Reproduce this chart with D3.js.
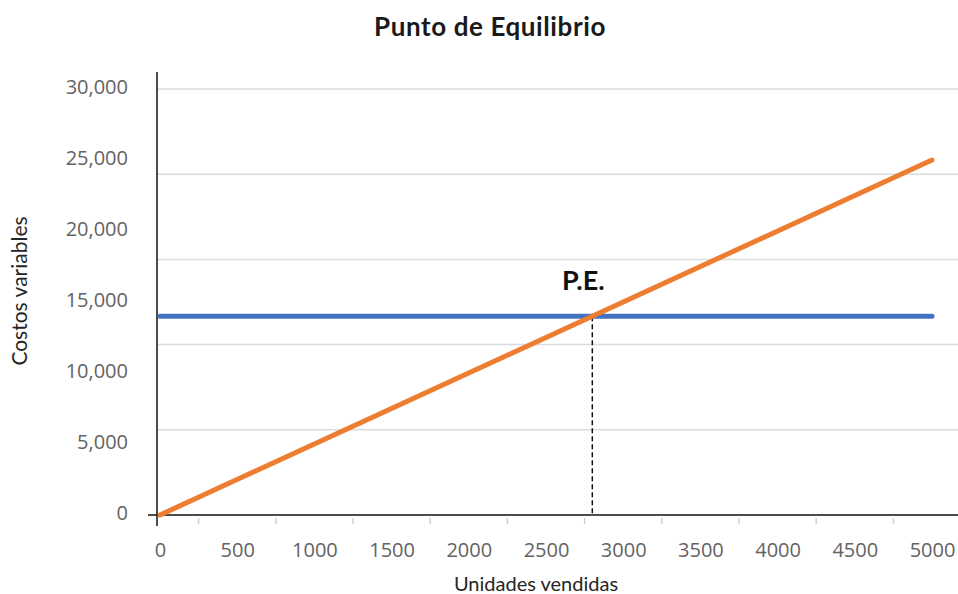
<!DOCTYPE html>
<html>
<head>
<meta charset="utf-8">
<script src="https://cdn.jsdelivr.net/npm/d3@7"></script>
<style>
  html, body { margin: 0; padding: 0; background: #fff; }
  svg { display: block; }
</style>
</head>
<body>
<svg id="chart" width="958" height="594"></svg>
<script>
// Units sold (x extent of both lines)
const units = [0, 5000];
// Horizontal cost line and rising sales line, one value per unit extent
const costValues = [14000, 14000];
const salesValues = [0, 25000];
// Break-even point
const peUnits = 2800;
const peValue = 14000;
// Axis ticks
const xTickLabels = [0, 500, 1000, 1500, 2000, 2500, 3000, 3500, 4000, 4500, 5000];
const xMinorTicks = [250, 750, 1250, 1750, 2250, 2750, 3250, 3750, 4250, 4750];
const yTickLabels = [0, 5000, 10000, 15000, 20000, 25000, 30000];
const gridValues = [6000, 12000, 18000, 24000, 30000];

const svg = d3.select("#chart");
const W = 958, H = 594;

const x = d3.scaleLinear().domain([0, 5000]).range([160, 932]);
const y = d3.scaleLinear().domain([0, 30000]).range([515, 89]);
const axisX = 157;

// Title
svg.append("text")
  .attr("x", 490).attr("y", 36)
  .attr("text-anchor", "middle")
  .attr("font-family", "Lato, 'Open Sans', sans-serif")
  .attr("font-weight", "bold")
  .attr("font-size", 26)
  .attr("letter-spacing", 0.6)
  .attr("fill", "#1a1a1a")
  .text("Punto de Equilibrio");

// Gridlines
svg.append("g").selectAll("line").data(gridValues).join("line")
  .attr("x1", axisX).attr("x2", W)
  .attr("y1", d => y(d)).attr("y2", d => y(d))
  .attr("stroke", "#dcdcdc").attr("stroke-width", 1.5);

// Y tick labels
const yAxis = d3.axisLeft(y).tickValues(yTickLabels).tickSize(0).tickPadding(0)
  .tickFormat(d3.format(","));
const gy = svg.append("g").attr("transform", "translate(128,-2)").call(yAxis);
gy.select(".domain").remove();
gy.selectAll("text")
  .attr("font-family", "'Open Sans', sans-serif")
  .attr("font-size", 20)
  .attr("fill", "#636363");

// X tick labels
const xAxis = d3.axisBottom(x).tickValues(xTickLabels).tickSize(0).tickPadding(0)
  .tickFormat(d3.format("d"));
const gx = svg.append("g").attr("transform", "translate(0,543)").call(xAxis);
gx.select(".domain").remove();
gx.selectAll("text")
  .attr("font-family", "'Open Sans', sans-serif")
  .attr("font-size", 20)
  .attr("fill", "#636363");

// Minor tick marks between the labels
svg.append("g").selectAll("line").data(xMinorTicks).join("line")
  .attr("x1", d => x(d)).attr("x2", d => x(d))
  .attr("y1", 518).attr("y2", 524)
  .attr("stroke", "#d0d0d0").attr("stroke-width", 1.5);

// Axis lines
svg.append("line")
  .attr("x1", 148).attr("x2", W)
  .attr("y1", y(0)).attr("y2", y(0))
  .attr("stroke", "#111").attr("stroke-width", 1.5);
svg.append("line")
  .attr("x1", axisX).attr("x2", axisX)
  .attr("y1", 72).attr("y2", 526)
  .attr("stroke", "#111").attr("stroke-width", 1.5);

// Axis titles
svg.append("text")
  .attr("x", 536).attr("y", 591)
  .attr("text-anchor", "middle")
  .attr("font-family", "Lato, 'Open Sans', sans-serif")
  .attr("font-size", 20)
  .attr("fill", "#262626")
  .text("Unidades vendidas");
svg.append("text")
  .attr("transform", "translate(27,291) rotate(-90)")
  .attr("text-anchor", "middle")
  .attr("font-family", "Lato, 'Open Sans', sans-serif")
  .attr("font-size", 21)
  .attr("fill", "#262626")
  .text("Costos variables");

// Break-even drop line
svg.append("line")
  .attr("x1", x(peUnits)).attr("x2", x(peUnits))
  .attr("y1", y(peValue)).attr("y2", y(0))
  .attr("stroke", "#111").attr("stroke-width", 1.5)
  .attr("stroke-dasharray", "5,3");

const line = d3.line().x(d => x(d[0])).y(d => y(d[1]));

// Cost line
svg.append("path")
  .datum(units.map((u, i) => [u, costValues[i]]))
  .attr("d", line)
  .attr("fill", "none")
  .attr("stroke", "#4472c4")
  .attr("stroke-width", 5)
  .attr("stroke-linecap", "round");

// Sales line
svg.append("path")
  .datum(units.map((u, i) => [u, salesValues[i]]))
  .attr("d", line)
  .attr("fill", "none")
  .attr("stroke", "#ed7d31")
  .attr("stroke-width", 5)
  .attr("stroke-linecap", "round");

// Break-even label
svg.append("text")
  .attr("x", x(peUnits) - 9).attr("y", y(peValue) - 26)
  .attr("text-anchor", "middle")
  .attr("font-family", "Lato, 'Open Sans', sans-serif")
  .attr("font-weight", "bold")
  .attr("font-size", 27)
  .attr("fill", "#111")
  .text("P.E.");
</script>
</body>
</html>
